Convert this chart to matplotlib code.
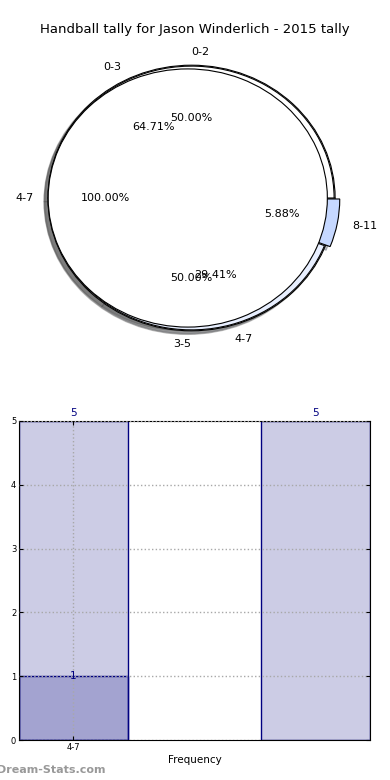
import matplotlib.pyplot as plt

title = "Handball tally for Jason Winderlich - 2015 tally"

# pie rings
mid_labels = ['0-2', '3-5']
mid_values = [1, 1]
outer_labels = ['0-3', '4-7', '8-11']
outer_values = [11, 5, 1]
inner_labels = ['4-7']
inner_values = [1]

# bar chart
bar_positions = [0, 2]
bar_totals = [5, 5]
count_positions = [0]
count_values = [1]
tick_labels = ['4-7']


def main():
    fig = plt.figure(figsize=(3.9, 7.8), dpi=100)

    # top: overlaid pies
    ax1 = fig.add_axes([12 / 390, 1 - 364 / 780, 359 / 390, 332 / 780])
    wp = dict(edgecolor='black', linewidth=0.8)
    tp = dict(fontsize=8)
    sh = dict(alpha=0.35)

    _, mid_texts, _ = ax1.pie(mid_values, labels=mid_labels, colors=['white', 'white'],
                              autopct='%.2f%%', shadow=sh, radius=1.0,
                              wedgeprops=wp, textprops=tp)
    mid_texts[0].set_ha('left')
    mid_texts[1].set_ha('right')

    r_out = 0.993
    ax1.pie(outer_values, labels=outer_labels, colors=['white', '#e8efff', '#c6d8ff'],
            explode=[0, 0, 0.04], autopct='%.2f%%', shadow=sh, radius=r_out,
            labeldistance=1.1 / r_out, pctdistance=0.6 / r_out,
            wedgeprops=wp, textprops=tp)

    # inner pie, nudged left so it touches the outer ring on that side
    r_in = 0.972
    shift = 0.026
    ax1.pie(inner_values, labels=inner_labels, colors=['white'],
            explode=[shift], autopct='%.2f%%', shadow=sh, radius=r_in,
            labeldistance=(1.1 - shift) / r_in, pctdistance=(0.6 - shift) / r_in,
            wedgeprops=wp, textprops=tp)
    ax1.set_aspect('auto')
    ax1.set_xlim(-1.25, 1.25)
    ax1.set_ylim(-1.25, 1.25)

    fig.text(0.5, 1 - 30 / 780, title, ha='center', va='center', fontsize=9.5)

    # bottom: bars
    ax2 = fig.add_axes([19 / 390, 40 / 780, 351 / 390, 319 / 780])
    light = (0, 0, 0.5, 0.2)
    ax2.bar(bar_positions, bar_totals, width=0.9, color=light, edgecolor='navy', linewidth=1)
    ax2.bar(count_positions, count_values, width=0.9, color=light, edgecolor='navy', linewidth=1)
    for x, v in zip(bar_positions, bar_totals):
        ax2.text(x, v + 0.04, str(v), ha='center', va='bottom', color='navy', fontsize=7.5)
    for x, v in zip(count_positions, count_values):
        ax2.text(x, v, str(v), ha='center', va='center', color='navy', fontsize=7.5)

    ax2.set_xlim(-0.45, 2.45)
    ax2.set_ylim(0, 5)
    ax2.set_xticks(count_positions)
    ax2.set_xticklabels(tick_labels)
    ax2.set_yticks(range(0, 6))
    ax2.tick_params(labelsize=6, direction='in', length=3, right=True, top=True, pad=2)
    ax2.grid(True, color='#a8a8a8', linestyle=':', linewidth=1)
    ax2.set_axisbelow(False)

    ax2.set_xlabel('Frequency', fontsize=7.5)
    ax2.xaxis.set_label_coords(0.5, -0.048)
    ax2.set_ylabel('Stat Intervals', fontsize=7.5)
    ax2.yaxis.set_label_coords(-0.046, 0.5)

    fig.text(51 / 390, 1 - 770 / 780, 'Dream-Stats.com', ha='center', va='center',
             fontsize=8, color='#999999', fontweight='bold')

    fig.savefig('out.png', dpi=100)


if __name__ == "__main__":
    main()
